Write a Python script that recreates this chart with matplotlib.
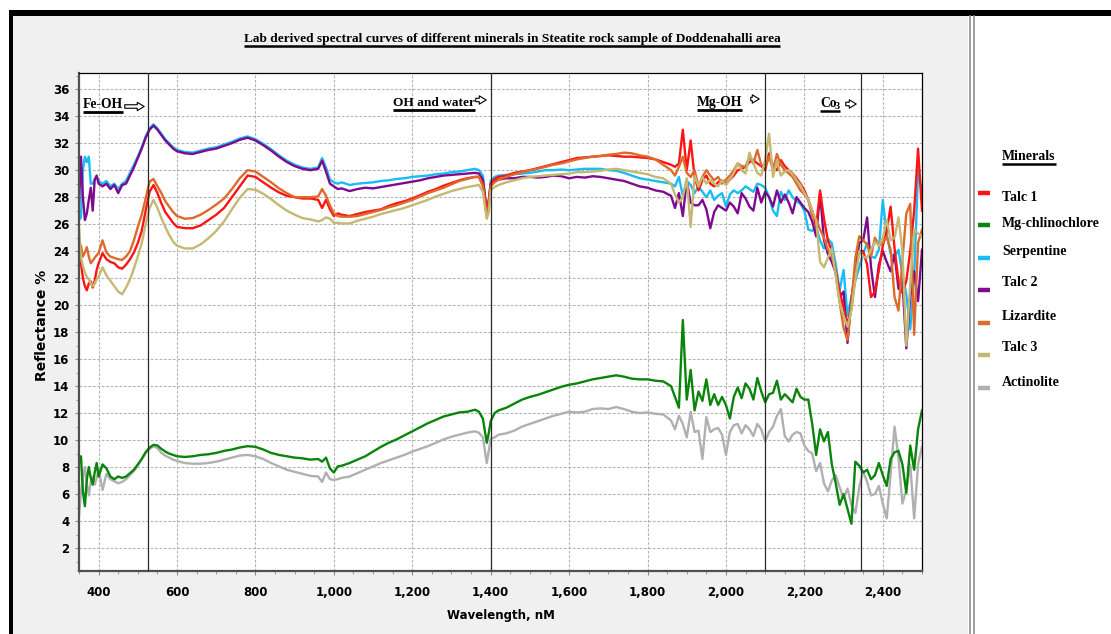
import numpy as np
import matplotlib
matplotlib.use('Agg')
import matplotlib.pyplot as plt
from matplotlib import font_manager as fm
from matplotlib.lines import Line2D
from matplotlib.patches import Rectangle
from matplotlib.ticker import MultipleLocator, FuncFormatter

W, H = 1111, 634

# wavelength grid (nm)
wavelength = [
    350, 355, 360, 365, 370, 375, 380, 385, 390, 395, 400,
    410, 420, 430, 440, 450, 460, 470, 480, 490, 500,
    510, 520, 530, 540, 550, 560, 570, 580, 590, 600,
    620, 640, 660, 680, 700, 720, 740, 760, 780, 800,
    820, 840, 860, 880, 900, 920, 940, 960,
    970, 980, 990, 1000, 1010, 1020,
    1040, 1060, 1080, 1100, 1120, 1140, 1160, 1180, 1200, 1220, 1240, 1260, 1280, 1300, 1320, 1340, 1360,
    1370, 1380, 1390, 1395, 1400, 1410, 1420,
    1440, 1460, 1480, 1500, 1520, 1540, 1560, 1580, 1600, 1620, 1640, 1660, 1680, 1700, 1720, 1740, 1760,
    1780, 1800, 1820, 1840, 1860,
    1870, 1880, 1890, 1900, 1910, 1920, 1930, 1940, 1950, 1960,
    1970, 1980, 1990, 2000, 2010, 2020, 2030, 2040, 2050, 2060,
    2070, 2080, 2090, 2100, 2110, 2120, 2130, 2140, 2150, 2160,
    2170, 2180, 2190, 2200, 2210, 2220, 2230, 2240, 2250, 2260,
    2270, 2280, 2290, 2300, 2310, 2320, 2330, 2340, 2350, 2360,
    2370, 2380, 2390, 2400, 2410, 2420, 2430, 2440, 2450, 2460,
    2470, 2480, 2490, 2500,
]

talc1 = [
    23.8, 23.1, 22.0, 21.4, 21.1, 21.6, 21.75, 21.3, 21.8, 22.6, 23.1,
    23.85, 23.4, 23.2, 23.1, 22.8, 22.7, 23.0, 23.4, 23.9, 24.6,
    25.5, 27.0, 28.4, 28.9, 28.3, 27.55, 26.9, 26.5, 26.1, 25.8,
    25.7, 25.7, 25.9, 26.3, 26.7, 27.2, 28.0, 28.8, 29.6, 29.5,
    29.1, 28.7, 28.35, 28.1, 28.0, 27.9, 27.9, 27.8,
    27.2, 27.8, 27.1, 26.6, 26.8, 26.7,
    26.6, 26.75, 26.9, 27.0, 27.1, 27.35, 27.55, 27.7, 27.9, 28.15, 28.4, 28.6, 28.85, 29.05, 29.25, 29.4, 29.5,
    29.5, 29.0, 27.0, 27.8, 29.0, 29.35, 29.5,
    29.6, 29.8, 29.9, 30.0, 30.15, 30.3, 30.45, 30.6, 30.75, 30.9, 30.95, 31.0, 31.05, 31.1, 31.05, 31.0, 31.0,
    30.95, 30.9, 30.8, 30.6, 30.4,
    30.25, 30.5, 33.0, 30.0, 32.2, 29.5, 28.5, 29.25, 29.6, 29.0,
    28.8, 29.1, 29.25, 29.0, 29.3, 29.6, 30.0, 30.1, 30.25, 30.6,
    30.75, 30.5, 30.3, 30.0, 31.25, 30.3, 30.0, 30.75, 30.3, 30.0,
    29.75, 29.4, 29.0, 28.5, 27.8, 27.0, 25.8, 28.5, 26.4, 24.8,
    24.0, 22.5, 21.0, 19.8, 18.6, 19.8, 22.2, 24.0, 24.0, 23.0,
    20.6, 21.0, 22.6, 24.4, 25.5, 27.3, 24.2, 21.8, 20.9, 21.8,
    24.0, 27.0, 31.6, 27.0,
]

mg_chlinochlore = [
    8.3, 8.8, 6.2, 5.1, 7.1, 8.0, 7.2, 6.7, 7.6, 8.3, 7.3,
    8.2, 7.9, 7.3, 7.1, 7.3, 7.2, 7.3, 7.55, 7.8, 8.2,
    8.6, 9.1, 9.45, 9.65, 9.6, 9.35, 9.15, 9.0, 8.9, 8.8,
    8.75, 8.8, 8.9, 8.95, 9.05, 9.2, 9.3, 9.45, 9.55, 9.5,
    9.3, 9.05, 8.9, 8.8, 8.7, 8.65, 8.55, 8.6,
    8.4, 8.7, 7.9, 7.6, 8.05, 8.1,
    8.3, 8.55, 8.8, 9.15, 9.5, 9.8, 10.05, 10.35, 10.65, 10.95, 11.25, 11.5, 11.75, 11.9, 12.05, 12.1, 12.25,
    12.1, 11.6, 9.8, 10.5, 11.4, 12.0, 12.2,
    12.4, 12.7, 13.0, 13.2, 13.35, 13.55, 13.75, 13.95, 14.1, 14.2, 14.35, 14.5, 14.6, 14.7, 14.8, 14.7, 14.55,
    14.5, 14.5, 14.4, 14.35, 14.0,
    13.2, 12.4, 18.9, 13.0, 15.2, 12.2, 13.6, 12.9, 14.5, 12.6,
    13.4, 12.6, 13.2, 12.6, 11.6, 13.2, 13.9, 13.1, 14.2, 13.8,
    13.0, 14.6, 13.6, 12.8, 13.4, 13.5, 14.4, 13.0, 13.4, 13.1,
    12.8, 13.8, 13.2, 13.0, 13.0, 11.2, 8.9, 10.8, 9.9, 10.6,
    8.2, 6.8, 5.2, 6.0, 4.9, 3.8, 8.4, 8.1, 7.6, 7.8,
    7.1, 7.4, 8.3, 7.4, 6.6, 8.6, 9.1, 9.2, 8.2, 6.1,
    9.6, 7.8, 10.8, 12.2,
]

serpentine = [
    26.3, 26.5, 30.0, 31.0, 30.6, 31.0, 29.0, 29.0, 29.3, 29.5, 29.2,
    29.0, 29.2, 28.8, 29.0, 28.6, 29.0, 29.2, 29.8, 30.4, 31.0,
    31.7, 32.5, 33.1, 33.4, 33.1, 32.7, 32.3, 32.0, 31.7, 31.5,
    31.35, 31.3, 31.45, 31.6, 31.7, 31.9, 32.1, 32.35, 32.5, 32.3,
    31.95, 31.55, 31.1, 30.7, 30.4, 30.2, 30.1, 30.2,
    30.9, 30.2, 29.3, 29.1, 29.0, 29.1,
    28.9, 29.0, 29.05, 29.1, 29.2, 29.25, 29.35, 29.4, 29.5, 29.55, 29.6, 29.7, 29.75, 29.85, 29.9, 30.0, 30.1,
    30.0, 29.6, 26.8, 27.5, 29.2, 29.5, 29.6,
    29.65, 29.7, 29.75, 29.8, 29.9, 30.0, 30.0, 30.05, 30.0, 30.05, 30.1, 30.1, 30.1, 30.0, 29.95, 29.8, 29.6,
    29.4, 29.3, 29.2, 29.1, 29.0,
    28.8, 29.5, 28.1, 29.2, 28.9, 28.3, 28.8, 28.4, 28.0, 28.5,
    27.8, 28.1, 28.3, 27.3, 28.2, 28.5, 28.3, 28.5, 28.8, 28.6,
    28.4, 29.0, 28.9, 28.7, 28.0, 27.0, 26.6, 28.4, 27.8, 28.5,
    28.0, 27.7, 27.5, 27.0, 25.6, 25.5, 25.8, 24.8, 24.2, 24.9,
    24.6, 23.0, 21.1, 22.6, 19.2, 20.6, 21.8, 22.8, 23.8, 24.6,
    23.6, 23.5, 24.1, 27.8, 25.2, 23.8, 23.6, 24.1, 22.3, 20.8,
    18.2, 22.1, 30.0, 28.3,
]

talc2 = [
    27.5, 31.0, 28.0, 26.3, 26.8, 27.8, 28.7, 27.0, 29.3, 29.6, 29.0,
    28.8, 29.0, 28.6, 28.9, 28.3, 28.9, 29.0, 29.6, 30.2, 30.9,
    31.6, 32.4, 33.0, 33.3, 33.0, 32.6, 32.2, 31.9, 31.6, 31.4,
    31.25, 31.2, 31.35, 31.5, 31.6, 31.8, 32.0, 32.25, 32.4, 32.2,
    31.85, 31.45, 31.0, 30.6, 30.3, 30.1, 30.0, 30.1,
    30.7, 29.9, 29.0, 28.8, 28.6, 28.65,
    28.45, 28.6, 28.7, 28.65, 28.75, 28.85, 28.95, 29.05, 29.15, 29.25, 29.4, 29.5, 29.6, 29.65, 29.7, 29.75, 29.8,
    29.75, 29.3, 27.0, 27.6, 28.9, 29.3, 29.3,
    29.4, 29.4, 29.5, 29.5, 29.45, 29.5, 29.6, 29.55, 29.4, 29.5, 29.45, 29.55, 29.5, 29.4, 29.3, 29.2, 29.0,
    28.8, 28.7, 28.5, 28.4, 28.1,
    27.2, 28.3, 26.6, 29.2, 27.6, 27.4, 27.4, 27.8, 27.1, 25.7,
    26.9, 27.4, 27.2, 27.0, 27.6, 27.3, 26.8, 28.3, 27.9, 27.3,
    27.0, 28.7, 27.6, 28.4, 28.0, 27.3, 28.5, 27.6, 28.2, 27.6,
    26.8, 28.0, 27.6, 27.2, 26.9, 26.2, 25.1, 28.3, 24.8, 23.8,
    23.2, 22.4, 20.6, 21.0, 17.2, 20.5, 22.6, 24.6, 24.8, 26.5,
    22.8, 20.6, 23.0, 24.0, 23.2, 22.5, 23.8, 21.2, 21.9, 16.8,
    20.6, 22.5, 20.3, 24.1,
]

lizardite = [
    24.6, 24.4, 23.6, 23.9, 24.3, 23.6, 23.1, 23.3, 23.5, 23.7, 23.85,
    24.8, 23.9, 23.6, 23.5, 23.4, 23.35, 23.6, 24.0, 24.8, 25.8,
    26.7, 27.9, 29.15, 29.35, 28.8, 28.3, 27.7, 27.3, 26.9, 26.6,
    26.4, 26.45, 26.7, 27.05, 27.45, 27.9, 28.6, 29.4, 30.0, 29.9,
    29.5, 29.1, 28.65, 28.3, 28.0, 28.0, 28.0, 28.05,
    28.6, 28.1, 27.4, 26.8, 26.6, 26.55,
    26.55, 26.6, 26.75, 26.9, 27.05, 27.25, 27.4, 27.6, 27.8, 28.05, 28.3, 28.5, 28.7, 28.95, 29.2, 29.35, 29.5,
    29.5, 28.8, 26.5, 27.3, 28.8, 29.1, 29.3,
    29.5, 29.7, 29.85, 30.0, 30.1, 30.25, 30.4, 30.5, 30.65, 30.8, 30.9, 31.0, 31.05, 31.15, 31.2, 31.3, 31.25,
    31.1, 31.0, 30.8, 30.4, 30.0,
    29.6, 30.25, 31.0, 29.8, 29.5, 30.0, 28.8, 29.5, 30.0, 29.6,
    29.25, 29.5, 29.0, 29.3, 29.6, 30.0, 30.5, 30.3, 30.25, 31.0,
    30.5, 31.5, 30.4, 30.25, 31.0, 30.0, 31.2, 30.4, 30.0, 29.75,
    29.5, 29.0, 28.5, 28.2, 27.8, 26.6, 26.3, 25.6, 25.0, 24.1,
    23.7, 22.3, 20.2, 18.3, 17.4, 20.2, 23.5, 25.1, 24.8, 24.5,
    23.6, 25.0, 24.4, 24.6, 25.1, 24.1, 20.6, 19.6, 23.3, 26.8,
    27.5, 17.8, 24.6, 25.6,
]

talc3 = [
    25.8, 23.5, 22.9, 22.4, 22.1, 21.9, 21.6, 21.4, 21.6, 21.9, 22.1,
    22.8, 22.2, 21.8, 21.4, 21.0, 20.8, 21.3, 21.9, 22.7, 23.6,
    24.6, 26.0, 27.2, 27.8, 27.2, 26.45, 25.8, 25.2, 24.7, 24.4,
    24.2, 24.2, 24.5, 24.95, 25.5, 26.2, 27.1, 27.95, 28.6, 28.55,
    28.25, 27.85, 27.4, 27.0, 26.7, 26.45, 26.35, 26.2,
    26.3, 26.5, 26.4, 26.1, 26.1, 26.05,
    26.05, 26.25, 26.4, 26.55, 26.75, 26.9, 27.05, 27.2, 27.4, 27.6, 27.8, 28.05, 28.25, 28.45, 28.6, 28.75, 28.85,
    28.9, 28.4, 26.4, 26.9, 28.5, 28.75, 28.9,
    29.1, 29.25, 29.4, 29.5, 29.55, 29.6, 29.65, 29.7, 29.75, 29.85, 29.85, 29.9, 29.95, 30.05, 30.1, 30.0, 29.9,
    29.8, 29.7, 29.5, 29.4, 29.0,
    28.2, 27.6, 28.0, 29.4, 25.8, 29.6, 28.8, 29.5, 29.0, 29.3,
    29.0, 28.8, 29.25, 28.9, 29.3, 29.8, 30.5, 30.0, 29.75, 31.3,
    30.5, 29.8, 29.6, 30.75, 32.7, 29.5, 30.7, 29.6, 29.9, 30.0,
    29.7, 29.25, 28.9, 28.3, 27.8, 27.0, 26.3, 23.2, 22.8, 23.5,
    24.2, 22.2, 20.2, 19.2, 18.4, 19.6, 21.9, 24.0, 23.6, 23.5,
    24.1, 24.7, 24.4, 25.0, 26.3, 24.8, 25.0, 26.5, 24.0, 17.0,
    21.5, 25.6, 25.3, 25.1,
]

actinolite = [
    4.4, 6.1, 7.2, 8.0, 6.8, 5.9, 6.9, 7.3, 6.7, 7.2, 7.8,
    6.3, 7.5, 7.1, 6.95, 6.8, 6.9, 7.1, 7.4, 7.7, 8.1,
    8.6, 9.05, 9.35, 9.55, 9.4, 9.05, 8.85, 8.7, 8.55, 8.45,
    8.3, 8.25, 8.25, 8.3, 8.4, 8.55, 8.7, 8.85, 8.9, 8.8,
    8.6, 8.3, 8.05, 7.8, 7.65, 7.5, 7.35, 7.3,
    6.9, 7.6, 7.1, 7.05, 7.1, 7.2,
    7.3, 7.55, 7.8, 8.05, 8.3, 8.5, 8.7, 8.9, 9.15, 9.35, 9.55, 9.8, 10.05, 10.25, 10.4, 10.55, 10.65,
    10.55, 10.2, 8.3, 9.2, 10.1, 10.2, 10.4,
    10.5, 10.7, 11.0, 11.2, 11.4, 11.6, 11.8, 11.95, 12.1, 12.05, 12.1, 12.3, 12.35, 12.3, 12.45, 12.3, 12.1,
    12.0, 12.05, 11.95, 11.9, 11.45,
    10.8, 11.8, 11.2, 10.2, 12.1, 10.6, 10.7, 8.6, 11.7, 10.6,
    10.8, 10.9, 10.4, 8.9, 10.6, 11.1, 11.2, 10.5, 11.1, 10.8,
    10.3, 11.2, 10.8, 9.9, 10.6, 11.0, 11.8, 12.3, 10.3, 9.9,
    10.4, 10.6, 10.5, 9.6, 9.2, 9.0, 7.7, 8.3, 6.8, 6.2,
    7.0, 7.4, 6.5, 5.7, 6.4, 5.2, 4.6, 6.5, 7.7, 6.9,
    5.9, 6.0, 6.6, 5.3, 4.2, 7.5, 11.0, 8.7, 5.3, 6.3,
    8.2, 4.2, 8.2, 9.5,
]

mineral_names = ['Talc 1', 'Mg-chlinochlore', 'Serpentine', 'Talc 2', 'Lizardite', 'Talc 3', 'Actinolite']
mineral_colors = ['#ff1414', '#0b840b', '#18bdf5', '#7e0a8e', '#dd6a2a', '#c4b872', '#b0b0b0']
region_lines = [525, 1400, 2100, 2345]


def has_font(name):
    try:
        fm.findfont(fm.FontProperties(family=name), fallback_to_default=False)
        return True
    except ValueError:
        return False


narrow = 'Liberation Sans Narrow' if has_font('Liberation Sans Narrow') else 'DejaVu Sans'
tick_size = 11 if narrow != 'DejaVu Sans' else 8.5
serif = 'Liberation Serif' if has_font('Liberation Serif') else 'DejaVu Serif'

fig = plt.figure(figsize=(W / 100, H / 100), dpi=100, facecolor='white')


def fx(px):
    return px / W


def fy(py):
    return 1 - py / H


# window-like frame around the chart
fig.add_artist(Rectangle((fx(12), 0), fx(968) - fx(12), fy(16), transform=fig.transFigure,
                         facecolor='#f0f0f0', edgecolor='none', zorder=-5))
fig.add_artist(Rectangle((fx(9), fy(16)), 1 - fx(9), fy(10) - fy(16), transform=fig.transFigure,
                         facecolor='black', edgecolor='none', zorder=-4))
fig.add_artist(Rectangle((fx(9), 0), fx(13) - fx(9), fy(10), transform=fig.transFigure,
                         facecolor='black', edgecolor='none', zorder=-4))
for sx in (969.5, 973.5):
    fig.add_artist(Line2D([fx(sx), fx(sx)], [0, fy(16)], transform=fig.transFigure,
                          color='#8c8c8c', lw=1.2, zorder=-3))

ax = fig.add_axes([fx(79), fy(571), fx(922) - fx(79), fy(73) - fy(571)])
ax.set_facecolor('white')

series = [talc1, mg_chlinochlore, serpentine, talc2, lizardite, talc3, actinolite]
draw_order = [2, 3, 0, 4, 5, 6, 1]
for i in draw_order:
    ax.plot(wavelength, series[i], color=mineral_colors[i], lw=1.7, solid_joinstyle='round')

for xv in region_lines:
    ax.axvline(xv, color='#2a2a2a', lw=0.9, zorder=3)

ax.set_xlim(350, 2500)
ax.set_ylim(0.3, 37.2)
ax.xaxis.set_major_locator(MultipleLocator(200))
ax.xaxis.set_minor_locator(MultipleLocator(50))
ax.yaxis.set_major_locator(MultipleLocator(2))
ax.yaxis.set_minor_locator(MultipleLocator(1))
ax.set_xticks([t for t in range(400, 2401, 200)])
ax.set_yticks([t for t in range(2, 37, 2)])
ax.xaxis.set_major_formatter(FuncFormatter(lambda v, p: f'{int(v):,}'))
ax.grid(True, which='major', color='#b4b4b4', linestyle=(0, (2.5, 1.5)), lw=0.8)
ax.set_axisbelow(True)
ax.tick_params(which='both', direction='out', color='#8a8a8a')
ax.tick_params(which='major', length=3)
ax.tick_params(which='minor', length=2)
ax.tick_params(axis='x', which='major', pad=8)
ax.tick_params(axis='y', which='major', pad=4)
for lab in ax.get_xticklabels() + ax.get_yticklabels():
    lab.set_fontfamily(narrow)
    lab.set_fontweight('bold')
    lab.set_fontsize(tick_size)
for side in ('left', 'bottom'):
    ax.spines[side].set_color('#505050')
    ax.spines[side].set_linewidth(1.6)
for side in ('top', 'right'):
    ax.spines[side].set_color('black')
    ax.spines[side].set_linewidth(0.9)

fig.text(fx(501), fy(616), 'Wavelength, nM', family=narrow, weight='bold',
         fontsize=tick_size, ha='center', va='center')
fig.text(fx(42), fy(325), 'Reflectance %', family='DejaVu Sans', weight='bold',
         fontsize=10, rotation=90, ha='center', va='center')

# texts that get an underline
title = fig.text(fx(512), fy(42), 'Lab derived spectral curves of different minerals in Steatite rock sample of Doddenahalli area',
                 family=serif, weight='bold', fontsize=9.6, ha='center', va='baseline')
fe_oh = fig.text(fx(83), fy(108), 'Fe-OH', family=serif, weight='bold', fontsize=9.8, va='baseline')
oh_water = fig.text(fx(393), fy(106), 'OH and water', family=serif, weight='bold', fontsize=9.6, va='baseline')
mg_oh = fig.text(fx(697), fy(106), 'Mg-OH', family=serif, weight='bold', fontsize=9.8, va='baseline')
co = fig.text(fx(820), fy(107), 'Co', family=serif, weight='bold', fontsize=9.8, va='baseline')
co3 = fig.text(fx(834.5), fy(109), '3', family=serif, weight='bold', fontsize=7.5, va='baseline')
minerals = fig.text(fx(1002), fy(160), 'Minerals', family=serif, weight='bold', fontsize=10, va='baseline')

# hollow arrows after the band names
arrows = [(122, 147, 106.5), (473, 489, 100), (748, 762, 99), (843, 859, 104)]
for x0, x1, yy in arrows:
    fig.add_artist(matplotlib.patches.FancyArrowPatch(
        (fx(x0), fy(yy)), (fx(x1), fy(yy)), transform=fig.transFigure,
        arrowstyle='simple,head_length=5,head_width=6,tail_width=2.5',
        facecolor='white', edgecolor='black', lw=0.8, mutation_scale=1))

# legend
legend_y = [197, 224, 252, 282.5, 316, 347.5, 383]
marker_y = [193, 225, 258, 290, 323, 355, 388]
for name, col, ty, my in zip(mineral_names, mineral_colors, legend_y, marker_y):
    fig.add_artist(Line2D([fx(978), fx(990)], [fy(my), fy(my)], transform=fig.transFigure,
                          color=col, lw=3.2, solid_capstyle='butt'))
    fig.text(fx(1002), fy(ty), name, family=serif, weight='bold', fontsize=10, va='center')

fig.canvas.draw()
renderer = fig.canvas.get_renderer()


def underline(parts, gap=1.0, lw=1.6):
    boxes = [t.get_window_extent(renderer) for t in parts]
    x0 = min(b.x0 for b in boxes)
    x1 = max(b.x1 for b in boxes)
    y = boxes[0].y0 - gap
    fig.add_artist(Line2D([x0 / W, x1 / W], [y / H, y / H], transform=fig.transFigure,
                          color='black', lw=lw, solid_capstyle='butt'))


underline([title], lw=1.8)
underline([fe_oh], lw=2.0)
underline([oh_water], lw=2.0)
underline([mg_oh], lw=2.0)
underline([co, co3], lw=1.8)
underline([minerals], lw=1.8)

fig.savefig('out.png', dpi=100, facecolor='white')
